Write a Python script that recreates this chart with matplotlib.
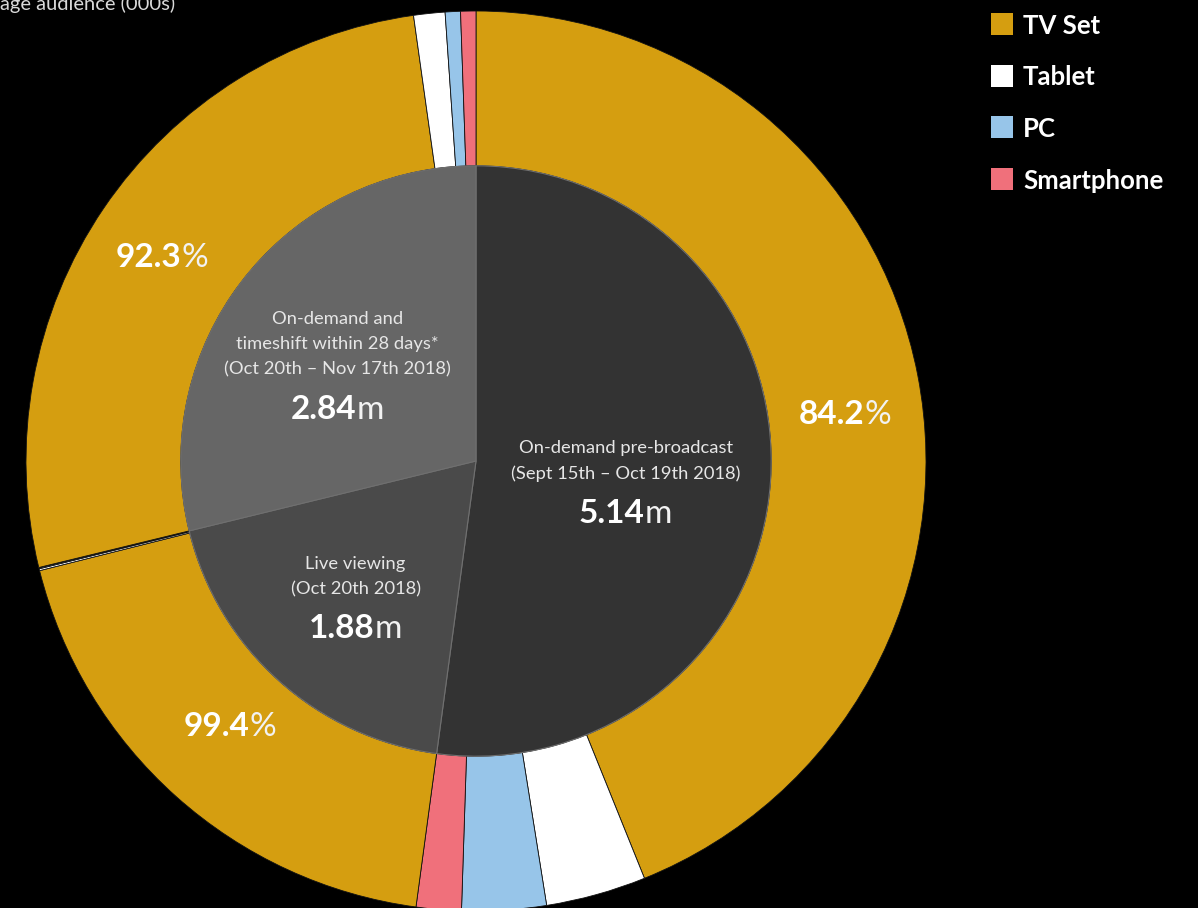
import numpy as np
import matplotlib.pyplot as plt
from matplotlib.patches import Rectangle
from matplotlib.transforms import ScaledTranslation

# Inner ring: audience per viewing window (millions)
windows = [
    "On-demand pre-broadcast\n(Sept 15th – Oct 19th 2018)",
    "Live viewing\n(Oct 20th 2018)",
    "On-demand and\ntimeshift within 28 days*\n(Oct 20th – Nov 17th 2018)",
]
audience_m = [5.14, 1.88, 2.84]

# Outer ring: device split within each window (%)
devices = ["TV Set", "Tablet", "PC", "Smartphone"]
share_pre = [84.2, 6.9, 5.8, 3.1]
share_live = [99.4, 0.35, 0.2, 0.05]
share_timeshift = [92.3, 3.9, 1.9, 1.9]

device_colors = ["#D59E10", "#FFFFFF", "#97C5E9", "#F0707B"]
window_colors = ["#333333", "#4A4A4A", "#666666"]

# label placement: radius and angular nudge (degrees, clockwise)
label_radius = [0.335, 0.40, 0.378]
label_nudge = [3.3, 0.0, -2.8]
pct_radius = [0.827, 0.80, 0.835]
pct_nudge = [3.4, 1.4, -0.9]

plt.rcParams["font.family"] = ["Lato", "DejaVu Sans"]

W, H = 1198, 908
fig = plt.figure(figsize=(W / 100, H / 100), dpi=100, facecolor="black")
ax = fig.add_axes([26 / W, -3 / H, 900 / W, 900 / H])
ax.set_facecolor("black")

shares = [share_pre, share_live, share_timeshift]
outer_vals = np.concatenate([np.array(s) / 100 * a for s, a in zip(shares, audience_m)])
outer_cols = device_colors * len(audience_m)

inner_r = 0.656
outer_wedges, _ = ax.pie(outer_vals, radius=1, colors=outer_cols, startangle=90,
                         counterclock=False,
                         wedgeprops=dict(width=1 - inner_r, edgecolor="#111111", linewidth=0.6))
inner_wedges, _ = ax.pie(audience_m, radius=inner_r, colors=window_colors, startangle=90,
                         counterclock=False,
                         wedgeprops=dict(edgecolor="#707070", linewidth=0.8))
ax.set_xlim(-1, 1)
ax.set_ylim(-1, 1)
ax.set_aspect("equal")
ax.axis("off")

renderer = fig.canvas.get_renderer()


def split_label(x, y, number, unit, size):
    # bold figure followed by a lighter unit, centred together on (x, y)
    shift = 0.36 * size / 72
    a = ax.text(x, y, number, fontsize=size, fontweight="bold", color="white",
                ha="left", va="baseline")
    b = ax.text(x, y, unit, fontsize=size, fontweight="normal", color="#F2F2F2",
                ha="left", va="baseline")
    wa = a.get_window_extent(renderer).width
    wb = b.get_window_extent(renderer).width
    dx = -(wa + wb) / 2 / fig.dpi
    a.set_transform(ax.transData + ScaledTranslation(dx, -shift, fig.dpi_scale_trans))
    b.set_transform(ax.transData + ScaledTranslation(dx + wa / fig.dpi, -shift,
                                                     fig.dpi_scale_trans))


def mid_point(wedge, r, nudge=0.0):
    ang = np.deg2rad((wedge.theta1 + wedge.theta2) / 2 - nudge)
    return r * np.cos(ang), r * np.sin(ang)


# Percent of each window watched on a TV set
for i, s in enumerate(shares):
    x, y = mid_point(outer_wedges[i * len(devices)], pct_radius[i], pct_nudge[i])
    split_label(x, y, f"{s[0]:.1f}", "%", 24)

# Window descriptions and audience in the pie centre
px = 1 / 450
line_gap, value_gap = 25.5 * px, 37 * px
for i, (w, text, val) in enumerate(zip(inner_wedges, windows, audience_m)):
    cx, cy = mid_point(w, label_radius[i], label_nudge[i])
    lines = text.split("\n")
    span = (len(lines) - 1) * line_gap + value_gap
    top = cy + span / 2
    for k, line in enumerate(lines):
        ax.text(cx, top - k * line_gap, line, fontsize=13.2, color="#E6E6E6",
                ha="center", va="center")
    split_label(cx, top - span, f"{val:.2f}", "m", 24)

# Legend
for i, (name, col) in enumerate(zip(devices, device_colors)):
    yc = 24 + 51.7 * i
    fig.add_artist(Rectangle((991 / W, 1 - (yc + 11) / H), 22 / W, 22 / H,
                             transform=fig.transFigure, facecolor=col, edgecolor="none"))
    fig.text(1023 / W, 1 - (yc + 1.5) / H, name, fontsize=18.5, fontweight="bold",
             color="white", ha="left", va="center")

fig.text(175 / W, 1 - 10 / H, "Average audience (000s)", fontsize=14.5, color="#D9D9D9",
         ha="right", va="baseline")

fig.savefig("out.png", dpi=100, facecolor="black")
